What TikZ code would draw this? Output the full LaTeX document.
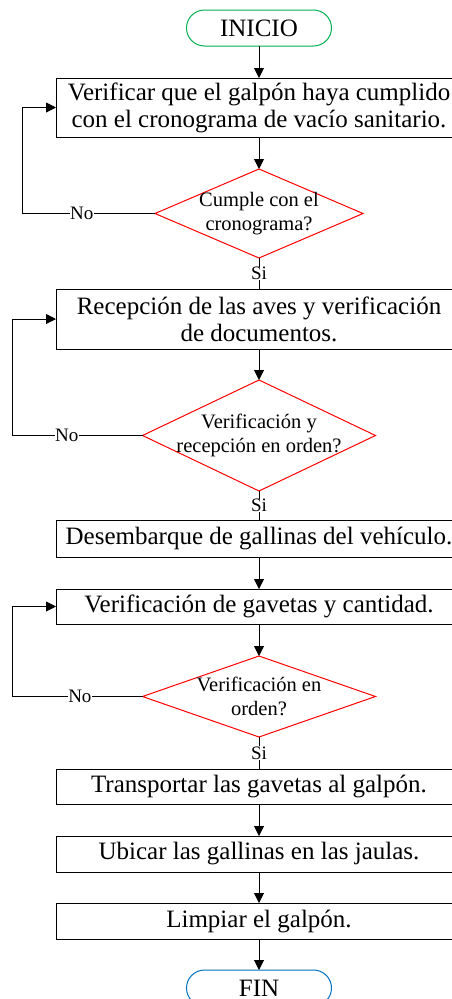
\documentclass[tikz,border=0pt]{standalone}
\usepackage{fontspec}
\setmainfont{Liberation Serif}
\usetikzlibrary{arrows.meta, positioning, shapes.geometric, shapes.misc}

\definecolor{inigreen}{RGB}{0,176,80}
\definecolor{finblue}{RGB}{0,112,192}

\begin{document}
\begin{tikzpicture}[
  x=1pt, y=1pt,
  box/.style={draw, line width=1pt, outer sep=0pt, minimum width=406pt, inner xsep=2pt, inner ysep=0pt, align=center, font=\fontsize{25}{27}\selectfont},
  term/.style={draw, rounded rectangle, line width=1pt, outer sep=0pt, minimum width=149pt, minimum height=36pt, inner sep=2pt, font=\fontsize{25}{27}\selectfont},
  decision/.style={draw=red, diamond, line width=1pt, outer sep=0pt, inner sep=0pt},
  dtext/.style={align=center, font=\fontsize{20.5}{23.5}\selectfont},
  lbl/.style={fill=white, inner sep=0.5pt, font=\fontsize{19}{21}\selectfont},
  arrow/.style={-{Triangle[length=10pt, width=10pt]}, line width=1pt}
  ]
\path[use as bounding box, clip] (0,0) rectangle (452,-999);

% Nodes
\node[term, draw=inigreen] (inicio) at (259,-28) {INICIO};
\node[box, minimum height=59pt, below=32pt of inicio] (verif) {Verificar que el galpón haya cumplido\\con el cronograma de vacío sanitario.};
\node[decision, minimum width=208pt, minimum height=89pt, below=32pt of verif,
      label={[dtext]center:Cumple con el\\cronograma?}] (cumple) {};
\node[box, minimum height=60pt, below=31pt of cumple] (recep) {Recepción de las aves y verificación\\de documentos.};
\node[decision, minimum width=233pt, minimum height=111pt, below=31pt of recep,
      label={[dtext]center:Verificación y\\recepción en orden?}] (recorden) {};
\node[box, minimum height=37pt, below=29pt of recorden] (desemb) {Desembarque de gallinas del vehículo.};
\node[box, minimum height=35pt, below=32pt of desemb] (gavetas) {Verificación de gavetas y cantidad.};
\node[decision, minimum width=233pt, minimum height=81pt, below=32pt of gavetas,
      label={[dtext]center:Verificación en\\orden?}] (gavorden) {};
\node[box, minimum height=35pt, below=32pt of gavorden] (transp) {Transportar las gavetas al galpón.};
\node[box, minimum height=36pt, below=32pt of transp] (ubicar) {Ubicar las gallinas en las jaulas.};
\node[box, minimum height=36pt, below=31pt of ubicar] (limpiar) {Limpiar el galpón.};
\node[term, draw=finblue, below=31pt of limpiar] (fin) {FIN};

\coordinate (loopa) at (22,0);
\coordinate (loopb) at (12,0);

% Arrows
\draw[arrow] (inicio) -- (verif);
\draw[arrow] (verif) -- (cumple);
\draw[line width=1pt] (cumple) -- node[lbl]{Si} (recep);
\draw[arrow] (cumple.west) -- node[lbl, pos=0.55]{No} (cumple.west -| loopa) |- (verif.west);
\draw[arrow] (recep) -- (recorden);
\draw[line width=1pt] (recorden) -- node[lbl]{Si} (desemb);
\draw[arrow] (recorden.west) -- node[lbl, pos=0.58]{No} (recorden.west -| loopb) |- (recep.west);
\draw[arrow] (desemb) -- (gavetas);
\draw[arrow] (gavetas) -- (gavorden);
\draw[line width=1pt] (gavorden) -- node[lbl]{Si} (transp);
\draw[arrow] (gavorden.west) -- node[lbl, pos=0.48]{No} (gavorden.west -| loopb) |- (gavetas.west);
\draw[arrow] (transp) -- (ubicar);
\draw[arrow] (ubicar) -- (limpiar);
\draw[arrow] (limpiar) -- (fin);

\end{tikzpicture}
\end{document}
